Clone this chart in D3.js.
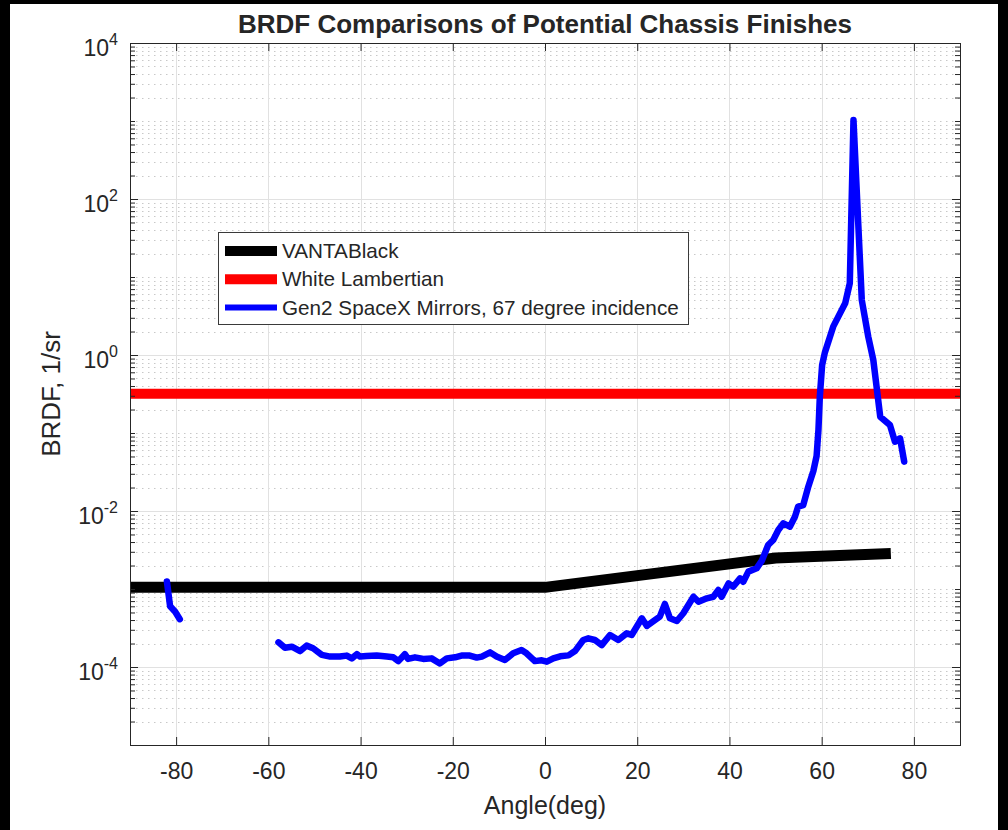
<!DOCTYPE html>
<html>
<head>
<meta charset="utf-8">
<script src="https://cdn.jsdelivr.net/npm/d3@7"></script>
<style>
  html, body { margin: 0; padding: 0; background: #000; }
  svg { display: block; }
  text { font-family: "Liberation Sans", Arial, sans-serif; fill: #262626; }
</style>
</head>
<body>
<div id="screen"></div>
<script>
// ---- data ----
var angleTicks = [-80, -60, -40, -20, 0, 20, 40, 60, 80];
var decadeLabels = [-4, -2, 0, 2, 4];

var vantaAngle = [-90, 0, 50, 75];
var vantaBRDF = [1.05e-3, 1.05e-3, 2.5e-3, 2.85e-3];

var lambertAngle = [-90, 90];
var lambertBRDF = [0.318, 0.318];

// mirror curve, short piece on the far left
var mirrorAngleA = [-82, -81.3, -80.2, -79.2];
var mirrorBRDFA = [1.25e-3, 6.0e-4, 5.1e-4, 4.1e-4];

// mirror curve, main piece
var mirrorAngle = [-57.8, -56.4, -54.9, -53.1, -51.7, -50.3, -48.4, -46.6, -44.5, -43.0,
    -41.9, -40.8, -40.1, -38.7, -36.5, -34.3, -32.9, -31.8, -30.4, -29.7,
    -28.2, -26.4, -24.6, -22.8, -21.3, -19.5, -18.1, -16.3, -14.8, -13.7,
    -11.9, -10.5, -8.7, -6.9, -5.1, -4.0, -2.2, -0.7, 0.4, 1.8,
    3.3, 5.1, 6.5, 8.3, 9.4, 10.8, 12.3, 14.1, 15.9, 17.7,
    18.8, 21.0, 22.1, 23.9, 24.9, 26.0, 27.1, 28.6, 30.0, 32.2,
    33.3, 35.1, 36.5, 37.6, 38.3, 39.8, 40.8, 42.3, 43.0, 44.1,
    45.9, 47.0, 48.4, 49.5, 50.6, 51.7, 53.1, 54.2, 54.9, 56.0,
    57.1, 58.2, 58.9, 59.3, 59.6, 60.1, 60.7, 62.5, 65.1, 66.1,
    66.9, 68.7, 70.1, 71.2, 72.7, 74.8, 75.9, 77.0, 77.9];
var mirrorBRDF = [2.07e-4, 1.77e-4, 1.82e-4, 1.60e-4, 1.88e-4, 1.74e-4, 1.43e-4, 1.36e-4, 1.36e-4, 1.40e-4,
    1.29e-4, 1.46e-4, 1.36e-4, 1.38e-4, 1.40e-4, 1.36e-4, 1.33e-4, 1.19e-4, 1.46e-4, 1.27e-4,
    1.33e-4, 1.27e-4, 1.29e-4, 1.11e-4, 1.29e-4, 1.33e-4, 1.40e-4, 1.40e-4, 1.32e-4, 1.36e-4,
    1.54e-4, 1.36e-4, 1.23e-4, 1.50e-4, 1.65e-4, 1.50e-4, 1.19e-4, 1.22e-4, 1.17e-4, 1.29e-4,
    1.37e-4, 1.41e-4, 1.60e-4, 2.22e-4, 2.33e-4, 2.22e-4, 1.91e-4, 2.57e-4, 2.22e-4, 2.70e-4,
    2.57e-4, 4.21e-4, 3.36e-4, 4.01e-4, 4.42e-4, 6.43e-4, 4.21e-4, 3.89e-4, 4.89e-4, 7.96e-4,
    6.87e-4, 7.60e-4, 7.96e-4, 9.71e-4, 7.96e-4, 1.18e-3, 1.07e-3, 1.37e-3, 1.24e-3, 1.67e-3,
    1.84e-3, 2.29e-3, 3.66e-3, 4.25e-3, 5.70e-3, 6.95e-3, 6.29e-3, 8.46e-3, 1.14e-2, 1.19e-2,
    2.05e-2, 3.26e-2, 5.07e-2, 0.109, 0.292, 0.744, 1.08, 2.31, 4.61, 8.3,
    1030, 5.07, 1.72, 0.863, 0.162, 0.127, 0.0773, 0.0855, 0.0429];

var legendNames = ["VANTABlack", "White Lambertian", "Gen2 SpaceX Mirrors, 67 degree incidence"];
var legendColors = ["#000000", "#ff0000", "#0000ff"];
var legendWidths = [10, 10, 6];

// ---- layout ----
var width = 1008, height = 830;
var plot = {left: 130, right: 960, top: 43, bottom: 745};
var axisColor = "#262626";

var svg = d3.select("#screen").append("svg").attr("width", width).attr("height", height);

svg.append("rect").attr("x", 10).attr("y", 4).attr("width", 988).attr("height", 826).attr("fill", "#fff");

var x = d3.scaleLinear().domain([-90, 90]).range([plot.left, plot.right]);
var y = d3.scaleLog().domain([1e-5, 1e4]).range([plot.bottom, plot.top]);

var zip = function(a, b) { return a.map(function(v, i) { return [v, b[i]]; }); };

// minor log positions (2..9 x 10^k) plus the unlabelled decades
var minorVals = [];
for (var k = -5; k < 4; k++) {
    if (k % 2 !== 0 && k > -5) minorVals.push(Math.pow(10, k));
    for (var m = 2; m <= 9; m++) minorVals.push(m * Math.pow(10, k));
}
var majorVals = decadeLabels.map(function(e) { return Math.pow(10, e); });

var grid = svg.append("g");

grid.selectAll(".minor").data(minorVals).enter().append("line")
    .attr("x1", plot.left).attr("x2", plot.right)
    .attr("y1", function(d) { return Math.round(y(d)) + 0.5; })
    .attr("y2", function(d) { return Math.round(y(d)) + 0.5; })
    .attr("stroke", "#c8c8c8").attr("stroke-width", 1)
    .attr("stroke-dasharray", "1.5,4.5");

grid.selectAll(".vmajor").data(angleTicks).enter().append("line")
    .attr("x1", function(d) { return Math.round(x(d)) + 0.5; })
    .attr("x2", function(d) { return Math.round(x(d)) + 0.5; })
    .attr("y1", plot.top).attr("y2", plot.bottom)
    .attr("stroke", "#e1e1e1").attr("stroke-width", 1);

grid.selectAll(".hmajor").data(majorVals).enter().append("line")
    .attr("x1", plot.left).attr("x2", plot.right)
    .attr("y1", function(d) { return Math.round(y(d)) + 0.5; })
    .attr("y2", function(d) { return Math.round(y(d)) + 0.5; })
    .attr("stroke", "#e1e1e1").attr("stroke-width", 1);

// ---- series ----
var line = d3.line()
    .x(function(d) { return x(d[0]); })
    .y(function(d) { return y(d[1]); });

var series = svg.append("g");

series.append("path").datum(zip(vantaAngle, vantaBRDF)).attr("d", line)
    .attr("fill", "none").attr("stroke", legendColors[0]).attr("stroke-width", 11)
    .attr("stroke-linejoin", "round");

series.append("path").datum(zip(lambertAngle, lambertBRDF)).attr("d", line)
    .attr("fill", "none").attr("stroke", legendColors[1]).attr("stroke-width", 10);

[zip(mirrorAngleA, mirrorBRDFA), zip(mirrorAngle, mirrorBRDF)].forEach(function(seg) {
    series.append("path").datum(seg).attr("d", line)
        .attr("fill", "none").attr("stroke", legendColors[2]).attr("stroke-width", 6.5)
        .attr("stroke-linejoin", "round").attr("stroke-linecap", "round");
});

// ---- axes ----
var axes = svg.append("g");

var boxLine = function(x1, y1, x2, y2) {
    axes.append("line").attr("x1", x1).attr("y1", y1).attr("x2", x2).attr("y2", y2)
        .attr("stroke", axisColor).attr("stroke-width", 1);
};
boxLine(plot.left + 0.5, plot.top, plot.left + 0.5, plot.bottom + 0.5);
boxLine(plot.right + 0.5, plot.top, plot.right + 0.5, plot.bottom + 0.5);
boxLine(plot.left, plot.top + 0.5, plot.right + 1, plot.top + 0.5);
boxLine(plot.left, plot.bottom + 0.5, plot.right + 1, plot.bottom + 0.5);

var xAxis = d3.axisBottom(x).tickValues(angleTicks).tickSizeInner(-8).tickSizeOuter(0).tickPadding(18)
    .tickFormat(function(d) { return d < 0 ? "-" + Math.abs(d) : d; });
var gx = axes.append("g").attr("transform", "translate(0," + plot.bottom + ")").call(xAxis);
gx.select(".domain").remove();
gx.selectAll("line").attr("stroke", axisColor);
gx.selectAll("text").attr("font-size", 23).attr("fill", axisColor)
    .attr("font-family", "'Liberation Sans', Arial, sans-serif");

var gxTop = axes.append("g").attr("transform", "translate(0," + plot.top + ")")
    .call(d3.axisTop(x).tickValues(angleTicks).tickSizeInner(-8).tickSizeOuter(0).tickFormat(""));
gxTop.select(".domain").remove();
gxTop.selectAll("line").attr("stroke", axisColor);

[[plot.left, d3.axisLeft], [plot.right, d3.axisRight]].forEach(function(side) {
    var gMinor = axes.append("g").attr("transform", "translate(" + side[0] + ",0)")
        .call(side[1](y).tickValues(minorVals).tickSizeInner(-5).tickSizeOuter(0).tickFormat(""));
    gMinor.select(".domain").remove();
    gMinor.selectAll("line").attr("stroke", axisColor);
    var gMajor = axes.append("g").attr("transform", "translate(" + side[0] + ",0)")
        .call(side[1](y).tickValues(majorVals).tickSizeInner(-8).tickSizeOuter(0).tickFormat(""));
    gMajor.select(".domain").remove();
    gMajor.selectAll("line").attr("stroke", axisColor);
});

// y tick labels as 10 with a superscript
var yLab = axes.selectAll(".ylab").data(decadeLabels).enter().append("text")
    .attr("x", plot.left - 12)
    .attr("y", function(d) { return y(Math.pow(10, d)) + 13; })
    .attr("text-anchor", "end")
    .attr("font-size", 23);
yLab.append("tspan").text("10");
yLab.append("tspan").attr("dy", -11).attr("font-size", 16)
    .text(function(d) { return d < 0 ? "-" + Math.abs(d) : d; });

// ---- titles ----
svg.append("text").attr("x", (plot.left + plot.right) / 2).attr("y", 33)
    .attr("text-anchor", "middle").attr("font-size", 26).attr("font-weight", "bold")
    .attr("fill", "#000").text("BRDF Comparisons of Potential Chassis Finishes");

svg.append("text").attr("x", (plot.left + plot.right) / 2).attr("y", 814)
    .attr("text-anchor", "middle").attr("font-size", 25).text("Angle(deg)");

svg.append("text").attr("transform", "translate(60," + (plot.top + plot.bottom) / 2 + ") rotate(-90)")
    .attr("text-anchor", "middle").attr("font-size", 26).text("BRDF, 1/sr");

// ---- legend ----
var legend = svg.append("g");
legend.append("rect").attr("x", 218.5).attr("y", 232.5).attr("width", 470).attr("height", 92)
    .attr("fill", "#fff").attr("stroke", "#3a3a3a").attr("stroke-width", 1);

var rows = legend.selectAll(".row").data(legendNames).enter().append("g")
    .attr("transform", function(d, i) { return "translate(0," + (251 + i * 28.3) + ")"; });
rows.append("line").attr("x1", 225).attr("x2", 277).attr("y1", 0).attr("y2", 0)
    .attr("stroke", function(d, i) { return legendColors[i]; })
    .attr("stroke-width", function(d, i) { return legendWidths[i]; });
rows.append("text").attr("x", 282).attr("y", 7).attr("font-size", 20.7).attr("fill", "#000")
    .text(function(d) { return d; });
</script>
</body>
</html>
